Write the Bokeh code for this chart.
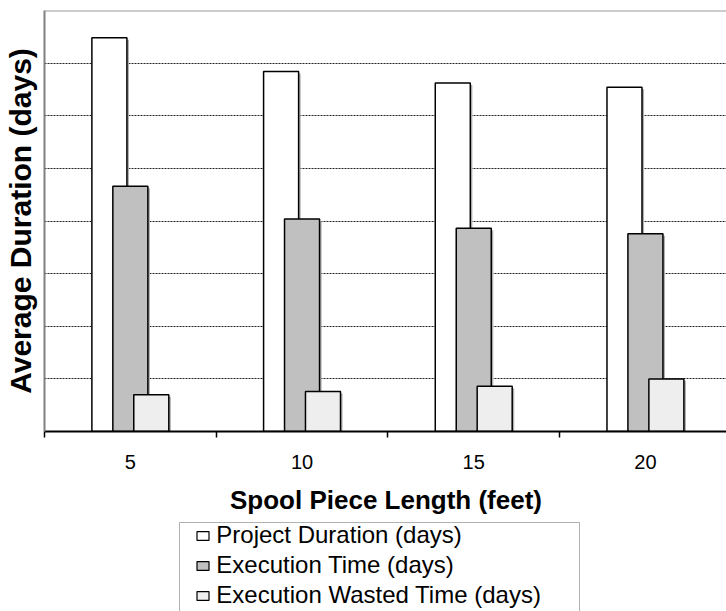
from bokeh.plotting import figure
from bokeh.layouts import column
from bokeh.models import (ColumnDataSource, FixedTicker, Span, Range1d, Legend,
                          LegendItem, BoxAnnotation)
from bokeh.transform import dodge
from bokeh.embed import file_html
from bokeh.resources import INLINE

# ---- data ----
categories = ["5", "10", "15", "20"]          # Spool Piece Length (feet)
project_duration = [374, 342, 331, 327]       # Project Duration (days)
execution_time = [233, 202, 193, 188]         # Execution Time (days)
execution_wasted = [35, 38, 43, 50]           # Execution Wasted Time (days)
grid_values = [50, 100, 150, 200, 250, 300, 350]
series_labels = ["Project Duration (days)", "Execution Time (days)",
                 "Execution Wasted Time (days)"]

xs = [i + 0.5 for i in range(len(categories))]
src = ColumnDataSource(dict(x=xs, proj=project_duration, exe=execution_time,
                            waste=execution_wasted))

FONT = "Liberation Sans"
BW = 0.204      # bar width in category units
OFF = 0.122     # bar offset in category units
COLORS = ["#ffffff", "#c0c0c0", "#eeeeee"]

p = figure(frame_width=683, frame_height=421, output_backend="svg",
           toolbar_location=None,
           x_range=Range1d(0, 3.978), y_range=Range1d(0, 400),
           min_border_left=43, min_border_right=0, min_border_top=10,
           min_border_bottom=89)
p.outline_line_color = None
p.background_fill_color = "white"
p.border_fill_color = "white"

# shadows + bars
for field, off, color in zip(["proj", "exe", "waste"], [-OFF, 0.0, OFF], COLORS):
    p.vbar(x=dodge("x", off + 0.012), top=dodge(field, -1.9), bottom=0,
           width=BW, source=src, fill_color="#b0b0b0", line_color=None)
    p.vbar(x=dodge("x", off), top=field, bottom=0, width=BW, source=src,
           fill_color=color, line_color="black", line_width=1.5)

# top border
p.add_layout(Span(location=400, dimension="width", line_color="#999999",
                  line_width=2))

# x axis
xa = p.xaxis[0]
xa.ticker = FixedTicker(ticks=xs, minor_ticks=[0, 1, 2, 3, 4])
xa.major_label_overrides = {x: c for x, c in zip(xs, categories)}
xa.major_tick_line_color = None
xa.major_tick_out = 0
xa.major_tick_in = 0
xa.minor_tick_line_color = "black"
xa.minor_tick_line_width = 1.5
xa.minor_tick_out = 6
xa.minor_tick_in = 0
xa.axis_line_color = "black"
xa.axis_line_width = 2
xa.major_label_text_font = FONT
xa.major_label_text_font_size = "20px"
xa.major_label_text_color = "black"
xa.major_label_standoff = 17
xa.axis_label = "Spool Piece Length (feet)"
xa.axis_label_text_font = FONT
xa.axis_label_text_font_style = "bold"
xa.axis_label_text_font_size = "26px"
xa.axis_label_text_color = "black"
xa.axis_label_standoff = 13

# y axis (no tick labels; grid lines from their own ticker)
ya = p.yaxis[0]
ya.ticker = FixedTicker(ticks=[])
ya.major_label_standoff = 0
ya.major_tick_line_color = None
ya.minor_tick_line_color = None
ya.axis_line_color = "#808080"
ya.axis_line_width = 2
ya.axis_label = "Average Duration (days)"
ya.axis_label_text_font = FONT
ya.axis_label_text_font_style = "bold"
ya.axis_label_text_font_size = "30px"
ya.axis_label_text_color = "black"
ya.axis_label_standoff = 8

p.xgrid.grid_line_color = None
p.ygrid.ticker = FixedTicker(ticks=grid_values)
p.ygrid.grid_line_color = "#222222"
p.ygrid.grid_line_dash = "2 1"
p.ygrid.grid_line_width = 1

# ---- legend strip below the chart ----
lg = figure(frame_width=683, frame_height=91, output_backend="svg",
            toolbar_location=None,
            x_range=Range1d(43, 726), y_range=Range1d(0, 91),
            x_axis_type=None, y_axis_type=None,
            min_border_left=43, min_border_right=0, min_border_top=0,
            min_border_bottom=0)
lg.outline_line_color = None
lg.xgrid.visible = False
lg.ygrid.visible = False
lg.add_layout(BoxAnnotation(left=178, right=578, bottom=-10, top=89,
                            fill_alpha=0, line_color="black", line_width=1))
dummy = ColumnDataSource(dict(x=[-1000], top=[0]))
items = []
for label, color in zip(series_labels, COLORS):
    r = lg.vbar(x="x", top="top", width=1, source=dummy, fill_color=color,
                line_color="black", line_width=1.2)
    items.append(LegendItem(label=label, renderers=[r]))
legend = Legend(items=items, location=(181, 2), orientation="vertical")
legend.border_line_color = None
legend.background_fill_alpha = 0
legend.label_text_font = FONT
legend.label_text_font_size = "24px"
legend.label_text_color = "black"
legend.glyph_width = 15
legend.glyph_height = 11
legend.label_standoff = 6
legend.label_height = 27
legend.spacing = 2
legend.padding = 0
legend.margin = 0
lg.add_layout(legend, "center")

open("out.html", "w").write(file_html(column(p, lg, spacing=0), INLINE))
